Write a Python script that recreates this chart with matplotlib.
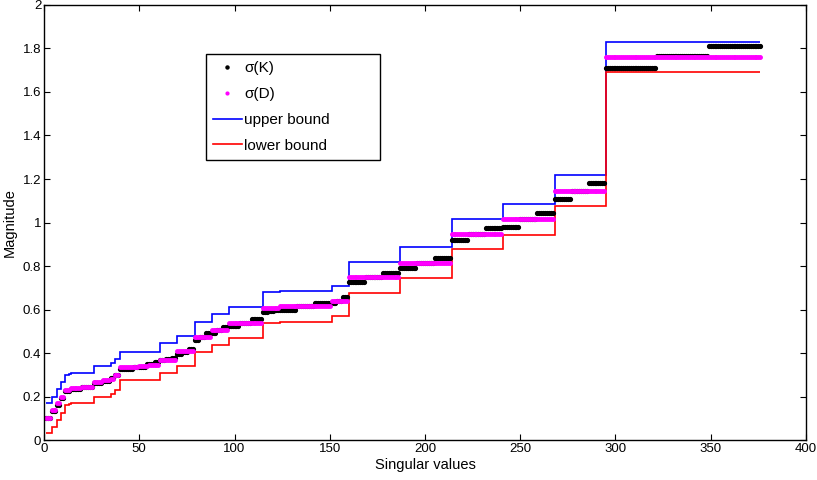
import numpy as np
import matplotlib
matplotlib.use('Agg')
import matplotlib.pyplot as plt

plt.rcParams['font.family'] = ['Liberation Sans', 'DejaVu Sans']

# step positions (index where each plateau starts, last entry = end)
bound_edges = [1, 4, 7, 9, 11, 13, 14, 26, 35, 37, 40, 61, 70, 79, 88, 97,
               115, 124, 151, 160, 187, 214, 241, 268, 295, 376]
upper_levels = [0.172, 0.200, 0.234, 0.268, 0.300, 0.305, 0.310, 0.340, 0.353,
                0.372, 0.406, 0.446, 0.478, 0.544, 0.579, 0.613, 0.680, 0.685,
                0.708, 0.820, 0.887, 1.018, 1.085, 1.218, 1.831]
lower_levels = [0.031, 0.060, 0.092, 0.126, 0.161, 0.165, 0.170, 0.198, 0.212,
                0.232, 0.274, 0.307, 0.340, 0.404, 0.436, 0.468, 0.537, 0.544,
                0.570, 0.677, 0.744, 0.880, 0.942, 1.076, 1.690]

# sigma(D): plateaus of singular values
sD_edges = [1, 4, 7, 9, 11, 14, 20, 26, 31, 35, 37, 40, 50, 55, 61, 70, 79, 88,
            97, 115, 124, 151, 160, 187, 214, 241, 268, 295, 377]
sD_levels = [0.103, 0.137, 0.168, 0.197, 0.230, 0.238, 0.246, 0.268, 0.275,
             0.282, 0.300, 0.334, 0.340, 0.345, 0.370, 0.407, 0.474, 0.506,
             0.540, 0.607, 0.615, 0.640, 0.748, 0.812, 0.947, 1.015, 1.146,
             1.762]

# sigma(K): plateaus of singular values
sK_edges = [1, 4, 7, 9, 11, 14, 20, 26, 31, 35, 37, 40, 47, 54, 58, 61, 64, 67,
            70, 73, 76, 79, 82, 85, 88, 91, 94, 97, 103, 109, 115, 118, 121,
            124, 133, 142, 151, 154, 157, 160, 169, 178, 187, 196, 205, 214,
            223, 232, 241, 250, 259, 268, 277, 286, 295, 322, 349, 377]
sK_levels = [0.100, 0.132, 0.163, 0.193, 0.226, 0.234, 0.243, 0.262, 0.270,
             0.283, 0.298, 0.328, 0.336, 0.350, 0.360, 0.366, 0.372, 0.378,
             0.396, 0.406, 0.418, 0.460, 0.474, 0.490, 0.492, 0.506, 0.521,
             0.522, 0.540, 0.556, 0.588, 0.592, 0.596, 0.598, 0.615, 0.631,
             0.628, 0.640, 0.659, 0.728, 0.749, 0.766, 0.792, 0.812, 0.835,
             0.920, 0.947, 0.976, 0.981, 1.015, 1.045, 1.108, 1.146, 1.183,
             1.712, 1.765, 1.813]

# expand plateaus into one value per singular value index
sK = np.repeat(sK_levels, np.diff(sK_edges))
sD = np.repeat(sD_levels, np.diff(sD_edges))
idxK = np.arange(sK_edges[0], sK_edges[-1])
idxD = np.arange(sD_edges[0], sD_edges[-1])

fig = plt.figure(figsize=(8.17, 4.8), dpi=100)
ax = fig.add_axes([0.0539, 0.0833, 0.9326, 0.9063])

ax.plot(idxK, sK, '.', color='black', markersize=5.5, label='σ(K)')
ax.plot(idxD, sD, '.', color='#ff00ff', markersize=5, label='σ(D)')
ax.stairs(upper_levels, bound_edges, baseline=None, color='#0000ff',
          linewidth=1.2, label='upper bound')
ax.stairs(lower_levels, bound_edges, baseline=None, color='#ff0000',
          linewidth=1.2, label='lower bound')

ax.set_xlim(0, 400)
ax.set_ylim(0, 2)
ax.set_xticks(np.arange(0, 401, 50))
ax.set_yticks(np.arange(0, 2.01, 0.2))
ax.yaxis.set_major_formatter(matplotlib.ticker.FormatStrFormatter('%g'))
ax.tick_params(direction='in', top=True, right=True, length=4, width=0.8,
               labelsize=9.5, pad=2)
for s in ax.spines.values():
    s.set_linewidth(1.0)

ax.set_xlabel('Singular values', fontsize=10.5, labelpad=2.5)
ax.set_ylabel('Magnitude', fontsize=10.5, labelpad=4)

# legend box is wider than its content, as in the original
leg = ax.legend(loc='upper left', bbox_to_anchor=(0.2126, 0.648, 0.2284, 0.239),
                mode='expand', numpoints=1, fontsize=11, fancybox=False,
                edgecolor='black', framealpha=1, borderaxespad=0,
                labelspacing=0.78, handlelength=1.9, handletextpad=0.15,
                borderpad=0.45, markerscale=0.8)
leg.get_frame().set_linewidth(1.0)

fig.savefig('out.png', dpi=100)
